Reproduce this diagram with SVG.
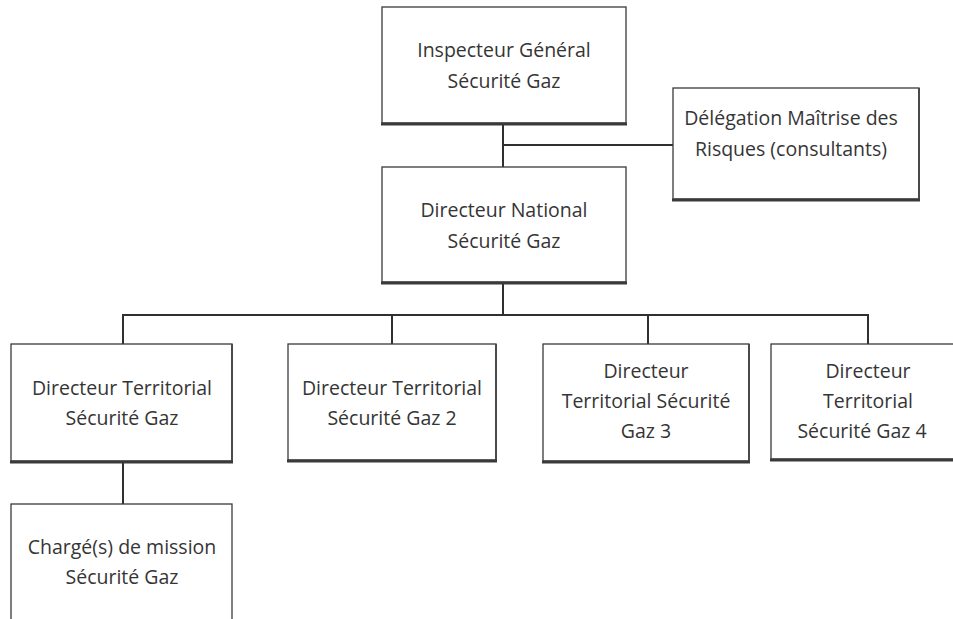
<svg xmlns="http://www.w3.org/2000/svg" width="953" height="619" viewBox="0 0 953 619">
<style>
.box{fill:#ffffff;stroke:#3a3a3a;stroke-width:1.3}
.sh{stroke:#3a3a3a;stroke-width:3;fill:none}
.shr{stroke:#4a4a4a;stroke-width:2;fill:none}
.t{font-family:"Open Sans","Noto Sans",sans-serif;font-size:19.5px;fill:#353535;text-anchor:middle}
.c{stroke:#303030;stroke-width:2;fill:none}
</style>
<rect width="953" height="619" fill="#ffffff"/>
<g id="connectors">
<line class="c" x1="503" y1="125" x2="503" y2="167"/>
<line class="c" x1="503" y1="145" x2="673" y2="145"/>
<line class="c" x1="503" y1="283" x2="503" y2="315"/>
<line class="c" x1="122" y1="315" x2="869" y2="315"/>
<line class="c" x1="123" y1="315" x2="123" y2="344"/>
<line class="c" x1="392" y1="315" x2="392" y2="344"/>
<line class="c" x1="648" y1="315" x2="648" y2="344"/>
<line class="c" x1="868" y1="315" x2="868" y2="344"/>
<line class="c" x1="123" y1="462" x2="123" y2="504"/>
</g>
<g id="inspecteur">
<rect class="box" x="382" y="7" width="244" height="116"/>
<line class="sh" x1="381" y1="124" x2="627" y2="124"/>
<text class="t" x="504" y="57">Inspecteur Général</text>
<text class="t" x="504" y="88">Sécurité Gaz</text>
</g>
<g id="delegation">
<rect class="box" x="673" y="88" width="246" height="111"/>
<line class="shr" x1="919" y1="88" x2="919" y2="200"/>
<line class="sh" x1="672" y1="200" x2="920" y2="200"/>
<text class="t" x="791" y="125">Délégation Maîtrise des</text>
<text class="t" x="791" y="156">Risques (consultants)</text>
</g>
<g id="national">
<rect class="box" x="382" y="167" width="244" height="115"/>
<line class="sh" x1="381" y1="283" x2="627" y2="283"/>
<text class="t" x="504" y="217">Directeur National</text>
<text class="t" x="504" y="248">Sécurité Gaz</text>
</g>
<g id="territorial1">
<rect class="box" x="11" y="344" width="221" height="117"/>
<line class="shr" x1="232" y1="344" x2="232" y2="462"/>
<line class="sh" x1="10" y1="462" x2="233" y2="462"/>
<text class="t" x="122" y="395">Directeur Territorial</text>
<text class="t" x="122" y="425">Sécurité Gaz</text>
</g>
<g id="territorial2">
<rect class="box" x="288" y="344" width="208" height="116"/>
<line class="shr" x1="496" y1="344" x2="496" y2="461"/>
<line class="sh" x1="287" y1="461" x2="497" y2="461"/>
<text class="t" x="392" y="395">Directeur Territorial</text>
<text class="t" x="392" y="425">Sécurité Gaz 2</text>
</g>
<g id="territorial3">
<rect class="box" x="543" y="344" width="206" height="117"/>
<line class="shr" x1="749" y1="344" x2="749" y2="462"/>
<line class="sh" x1="542" y1="462" x2="750" y2="462"/>
<text class="t" x="646" y="378">Directeur</text>
<text class="t" x="646" y="408">Territorial Sécurité</text>
<text class="t" x="646" y="438">Gaz 3</text>
</g>
<g id="territorial4">
<rect class="box" x="771" y="344" width="200" height="115"/>
<line class="sh" x1="770" y1="460" x2="953" y2="460"/>
<text class="t" x="868" y="378">Directeur</text>
<text class="t" x="868" y="408">Territorial</text>
<text class="t" x="862" y="438">Sécurité Gaz 4</text>
</g>
<g id="charge">
<rect class="box" x="11" y="504" width="221" height="130"/>
<text class="t" x="122" y="554">Chargé(s) de mission</text>
<text class="t" x="122" y="584">Sécurité Gaz</text>
</g>
</svg>
